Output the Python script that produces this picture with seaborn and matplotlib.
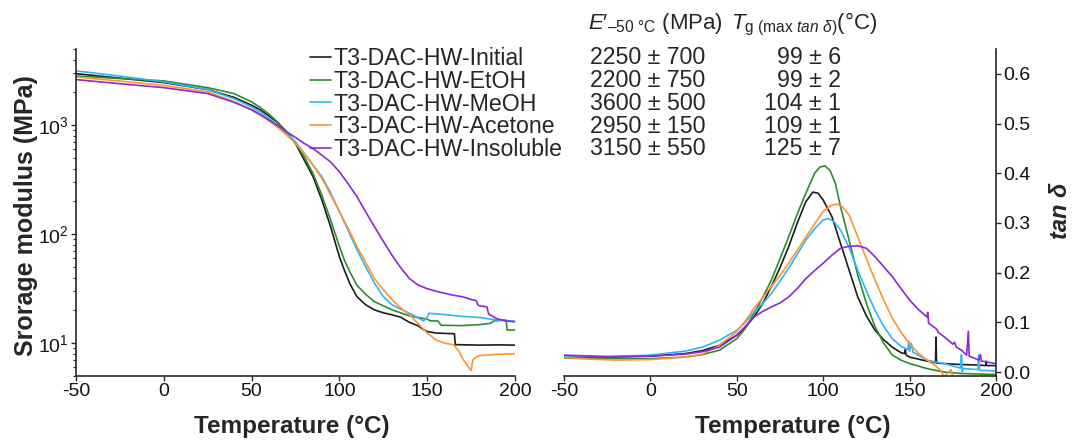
import numpy as np
import pandas as pd
import matplotlib
matplotlib.use("Agg")
import matplotlib.pyplot as plt
import seaborn as sns
from matplotlib.ticker import LogLocator, NullFormatter, FixedLocator, FormatStrFormatter

# ---------------- data ----------------
names = ["T3-DAC-HW-Initial", "T3-DAC-HW-EtOH", "T3-DAC-HW-MeOH",
         "T3-DAC-HW-Acetone", "T3-DAC-HW-Insoluble"]
colors = ["#1c1c1c", "#2e8b2e", "#2fb4fa", "#ff9430", "#8c28d6"]

e_mod_col = ["2250 ± 700", "2200 ± 750", "3600 ± 500", "2950 ± 150", "3150 ± 550"]
tg_col = ["99 ± 6", "99 ± 2", "104 ± 1", "109 ± 1", "125 ± 7"]

# Storage modulus (MPa) vs temperature
E_T_initial = [-50, -25, 0, 25, 40, 50, 55, 60, 65, 70, 75, 80, 85, 90, 95, 100, 103, 106, 110, 115, 120,
               125, 130, 135, 137, 140, 145, 147, 150, 155, 160, 165.5, 166, 180, 190, 200]
E_initial = [2970, 2700, 2460, 2120, 1800, 1525, 1380, 1210, 1050, 868, 680, 478, 337, 206, 117, 62, 46, 35,
             26.7, 22.5, 20.2, 19.0, 18.2, 17.3, 16.5, 15.5, 14.4, 13.6, 12.8, 12.4, 12.3, 12.2, 9.7, 9.6,
             9.65, 9.6]

E_T_etoh = [-50, -25, 0, 25, 40, 50, 55, 60, 65, 70, 75, 80, 85, 90, 95, 100, 103, 106, 110, 115, 120, 130,
            140, 150, 152, 156, 158, 170, 180, 186, 188, 195, 195.5, 200]
E_etoh = [2830, 2680, 2550, 2210, 1950, 1636, 1450, 1260, 1060, 868, 689, 513, 360, 228, 135, 77, 57, 45, 34,
          28, 24, 20.2, 17.8, 16.6, 16.0, 16.0, 14.6, 14.5, 14.8, 15.2, 16.0, 16.3, 13.2, 13.2]

E_T_meoh = [-50, -25, 0, 25, 40, 50, 55, 60, 65, 70, 75, 80, 85, 90, 95, 100, 105, 110, 115, 120, 125, 130,
            135, 140, 145, 148, 150, 151, 160, 170, 180, 185, 190, 200]
E_meoh = [3150, 2820, 2500, 2120, 1750, 1472, 1310, 1150, 990, 839, 703, 550, 430, 337, 240, 161, 108, 72, 50,
          35.5, 26.8, 22.5, 20.5, 18.8, 17.0, 16.0, 17.3, 18.8, 18.3, 17.6, 17.2, 16.7, 16.3, 15.9]

E_T_acetone = [-50, -25, 0, 25, 40, 50, 55, 60, 65, 70, 75, 80, 85, 90, 95, 100, 105, 110, 115, 120, 125, 130,
               135, 140, 145, 150, 155, 160, 165, 168, 170, 173, 175, 176, 178, 180, 190, 200]
E_acetone = [2770, 2540, 2320, 2020, 1650, 1372, 1230, 1095, 950, 810, 680, 550, 430, 325, 230, 161, 113, 77,
             55, 39, 31, 25, 21, 18.2, 15.0, 12.4, 10.7, 10.0, 9.66, 8.5, 7.3, 6.2, 5.6, 7.0, 7.5, 7.7, 7.9, 8.0]

E_T_insol = [-50, -25, 0, 25, 40, 50, 55, 60, 65, 70, 75, 80, 85, 90, 95, 100, 105, 110, 115, 120, 125, 130,
             135, 140, 145, 150, 155, 160, 165, 170, 175, 178, 179, 184, 185, 190, 195, 200]
E_insol = [2620, 2400, 2210, 1950, 1620, 1390, 1250, 1110, 990, 870, 771, 680, 610, 531, 460, 374, 290, 221,
           160, 117, 86, 64, 49, 39, 34, 31.6, 30, 28.7, 27.5, 26.7, 25.2, 24.5, 22.2, 21.5, 18.5, 16.7, 16.0,
           15.7]

# tan delta vs temperature
D_T_initial = [-50, -25, 0, 20, 30, 40, 50, 55, 60, 65, 70, 75, 80, 85, 90, 94, 97, 100, 105, 110, 115, 120,
               125, 130, 135, 140, 145, 147, 147.5, 148, 150, 155, 160, 165, 165.3, 165.6, 170, 180, 190, 194,
               194.3, 194.6, 200]
D_initial = [0.030, 0.030, 0.032, 0.037, 0.043, 0.054, 0.074, 0.090, 0.111, 0.138, 0.172, 0.210, 0.252, 0.300,
             0.343, 0.362, 0.360, 0.346, 0.313, 0.259, 0.205, 0.151, 0.113, 0.084, 0.065, 0.050, 0.039, 0.037,
             0.045, 0.034, 0.030, 0.026, 0.022, 0.019, 0.070, 0.018, 0.017, 0.015, 0.014, 0.013, 0.022, 0.013,
             0.013]

D_T_etoh = [-50, -25, 0, 20, 30, 40, 50, 55, 60, 65, 70, 75, 80, 85, 90, 95, 98, 101, 104, 107, 110, 115, 120,
            125, 130, 135, 140, 145, 150, 160, 170, 180, 200]
D_etoh = [0.028, 0.027, 0.027, 0.030, 0.035, 0.044, 0.067, 0.088, 0.118, 0.150, 0.185, 0.228, 0.272, 0.318,
          0.360, 0.400, 0.412, 0.415, 0.405, 0.380, 0.333, 0.265, 0.195, 0.138, 0.091, 0.058, 0.034, 0.024,
          0.017, 0.007, 0.000, -0.003, -0.005]

D_T_meoh = [-50, -25, 0, 20, 30, 40, 50, 55, 60, 65, 70, 75, 80, 85, 90, 95, 100, 103, 106, 110, 115, 120, 125,
            130, 135, 140, 145, 149, 149.5, 150, 151, 152, 155, 160, 165, 170, 175, 179.5, 180, 180.5, 181, 185,
            189.5, 190, 190.5, 195, 200]
D_meoh = [0.032, 0.031, 0.034, 0.042, 0.050, 0.064, 0.084, 0.100, 0.121, 0.138, 0.158, 0.183, 0.209, 0.237,
          0.266, 0.288, 0.306, 0.309, 0.303, 0.286, 0.250, 0.205, 0.163, 0.124, 0.092, 0.067, 0.052, 0.045,
          0.062, 0.042, 0.058, 0.040, 0.034, 0.024, 0.020, 0.017, 0.012, 0.008, 0.035, 0.000, 0.007, 0.006,
          0.005, 0.035, 0.003, 0.003, 0.002]

D_T_acetone = [-50, -35, -20, 0, 20, 30, 40, 50, 55, 60, 65, 70, 75, 80, 85, 90, 95, 100, 105, 108, 111, 115,
               120, 125, 130, 135, 140, 145, 150, 155, 160, 165, 168, 170, 174, 175, 180]
D_acetone = [0.029, 0.026, 0.024, 0.025, 0.030, 0.036, 0.054, 0.081, 0.103, 0.128, 0.150, 0.172, 0.195, 0.219,
             0.245, 0.272, 0.298, 0.323, 0.336, 0.338, 0.333, 0.316, 0.272, 0.228, 0.185, 0.145, 0.108, 0.080,
             0.057, 0.038, 0.024, 0.013, 0.003, -0.010, 0.005, -0.010, -0.020]

D_T_insol = [-50, -25, 0, 20, 30, 40, 50, 55, 60, 65, 70, 75, 80, 85, 90, 95, 100, 105, 110, 115, 120, 125, 130,
             135, 140, 145, 150, 155, 160, 160.5, 161, 165, 166, 166.5, 170, 175, 176, 177, 180, 183, 184, 184.5,
             188, 190, 191, 191.5, 195, 200]
D_insol = [0.034, 0.031, 0.032, 0.036, 0.041, 0.050, 0.074, 0.092, 0.111, 0.122, 0.131, 0.139, 0.151, 0.168,
           0.188, 0.204, 0.219, 0.235, 0.249, 0.253, 0.254, 0.249, 0.232, 0.212, 0.192, 0.168, 0.145, 0.126,
           0.111, 0.120, 0.098, 0.088, 0.085, 0.080, 0.071, 0.056, 0.060, 0.050, 0.044, 0.034, 0.082, 0.032,
           0.027, 0.024, 0.035, 0.022, 0.020, 0.017]

E_sets = [(E_T_initial, E_initial), (E_T_etoh, E_etoh), (E_T_meoh, E_meoh),
          (E_T_acetone, E_acetone), (E_T_insol, E_insol)]
D_sets = [(D_T_initial, D_initial), (D_T_etoh, D_etoh), (D_T_meoh, D_meoh),
          (D_T_acetone, D_acetone), (D_T_insol, D_insol)]

# ---------------- style ----------------
sns.set_theme(style="ticks")
plt.rcParams["font.family"] = ["Liberation Sans", "DejaVu Sans"]
plt.rcParams["mathtext.fontset"] = "custom"
plt.rcParams["mathtext.rm"] = "Liberation Sans"
plt.rcParams["mathtext.it"] = "Liberation Sans:italic"
plt.rcParams["mathtext.bf"] = "Liberation Sans:bold"
plt.rcParams["axes.unicode_minus"] = False

W, H = 1072, 441
fig = plt.figure(figsize=(W / 100, H / 100), dpi=100)
L1, R1, L2, R2, TOP, BOT = 76, 515, 564, 996, 49, 376
ax1 = fig.add_axes([L1 / W, 1 - BOT / H, (R1 - L1) / W, (BOT - TOP) / H])
ax2 = fig.add_axes([L2 / W, 1 - BOT / H, (R2 - L2) / W, (BOT - TOP) / H])

lw = 1.2
dfE = pd.concat([pd.DataFrame({"T": t, "E": e, "sample": n}) for n, (t, e) in zip(names, E_sets)],
                ignore_index=True)
dfD = pd.concat([pd.DataFrame({"T": t, "tan": d, "sample": n}) for n, (t, d) in zip(names, D_sets)],
                ignore_index=True)
pal = dict(zip(names, colors))

sns.lineplot(data=dfE, x="T", y="E", hue="sample", palette=pal, hue_order=names,
             estimator=None, sort=False, lw=lw, ax=ax1, legend=False)
sns.lineplot(data=dfD, x="T", y="tan", hue="sample", palette=pal, hue_order=names,
             estimator=None, sort=False, lw=lw, ax=ax2, legend=False)

spine_c = "#2a2a2a"
# left axes
ax1.set_yscale("log")
ax1.set_ylim(5, 5000)
ax1.set_xlim(-50, 200)
ax1.set_xticks([-50, 0, 50, 100, 150, 200])
ax1.yaxis.set_major_locator(LogLocator(base=10, numticks=10))
ax1.yaxis.set_minor_locator(LogLocator(base=10, subs=np.arange(2, 10), numticks=20))
ax1.yaxis.set_minor_formatter(NullFormatter())
for s in ["top", "right"]:
    ax1.spines[s].set_visible(False)
ax1.set_xlabel("Temperature (°C)", fontsize=17.5, fontweight="bold")
ax1.set_ylabel("Srorage modulus (MPa)", fontsize=18, fontweight="bold")
ax1.xaxis.set_label_coords((292 - L1) / (R1 - L1), (BOT - 415) / (BOT - TOP))
ax1.yaxis.set_label_coords((38 - L1) / (R1 - L1), 0.49)

# right axes
ax2.set_xlim(-50, 200)
ax2.set_ylim(-0.008, 0.65)
ax2.set_xticks([-50, 0, 50, 100, 150, 200])
ax2.yaxis.set_major_locator(FixedLocator([0.0, 0.1, 0.2, 0.3, 0.4, 0.5, 0.6]))
ax2.yaxis.set_major_formatter(FormatStrFormatter("%.1f"))
ax2.yaxis.tick_right()
ax2.yaxis.set_label_position("right")
for s in ["top", "left"]:
    ax2.spines[s].set_visible(False)
ax2.set_xlabel("Temperature (°C)", fontsize=17.5, fontweight="bold")
ax2.set_ylabel("tan δ", fontsize=17, fontweight="bold", style="italic")
ax2.xaxis.set_label_coords((793 - L2) / (R2 - L2), (BOT - 415) / (BOT - TOP))
ax2.yaxis.set_label_coords((1049 - L2) / (R2 - L2), 0.505)

for ax in (ax1, ax2):
    for s in ax.spines.values():
        s.set_color(spine_c)
        s.set_linewidth(1.2)
    ax.tick_params(axis="both", which="major", direction="out", length=3.6, width=1,
                   color=spine_c, labelsize=14, labelcolor="#111111", pad=1.5)
    ax.tick_params(axis="both", which="minor", direction="out", length=2.2, width=0.8, color=spine_c)
    ax.set_facecolor("none")

# legend
FS = 16.7
handles = ax1.get_lines()[:len(names)]
fig.legend(handles, names, loc="upper left", bbox_to_anchor=(310 / W, 1 - 47 / H),
           frameon=False, fontsize=FS, handlelength=0.92, handletextpad=0.09,
           labelspacing=-0.01, borderpad=0, borderaxespad=0)

# table columns
rows_y = [58, 80.7, 103.4, 126.1, 148.8]
for yy, ev, tv in zip(rows_y, e_mod_col, tg_col):
    fig.text(590 / W, 1 - yy / H, ev, ha="left", va="center", fontsize=FS)
    fig.text(841 / W, 1 - yy / H, tv, ha="right", va="center", fontsize=FS)
fig.text(588 / W, 1 - 24 / H, r"$\mathit{E}$′$_{\mathrm{–50\ °C}}$ (MPa)", ha="left", va="center", fontsize=16)
fig.text(731 / W, 1 - 24 / H, r"$\mathit{T}_{\mathrm{g\ (max}\ \mathit{tan}\ \delta\mathrm{)}}$(°C)",
         ha="left", va="center", fontsize=16)

fig.savefig("out.png", dpi=100)
